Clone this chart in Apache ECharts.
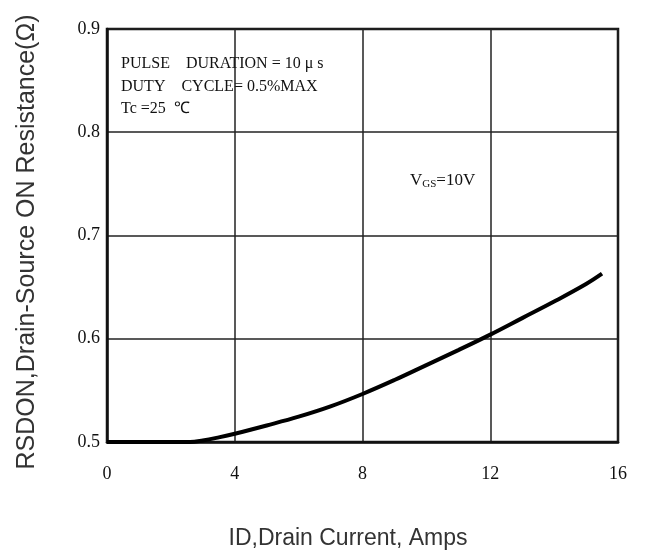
<!DOCTYPE html>
<html>
<head>
<meta charset="utf-8">
<script src="https://cdn.jsdelivr.net/npm/echarts@6/dist/echarts.min.js"></script>
<style>
html,body{margin:0;padding:0;background:#fff;}
#c{width:645px;height:556px;}
</style>
</head>
<body>
<div id="c"></div>
<script>
// Data
const currentAmps = [0, 1, 2, 2.6, 3, 3.5, 4, 5, 6, 7, 8, 9, 10, 11, 12, 13, 14, 15, 15.5];
const resistanceOhm = [0.5, 0.5, 0.5, 0.5, 0.5015, 0.5045, 0.508, 0.516, 0.5245, 0.5345, 0.5465, 0.560, 0.5745, 0.589, 0.604, 0.620, 0.636, 0.653, 0.663];
const xTicks = [0, 4, 8, 12, 16];
const yTicks = [0.5, 0.6, 0.7, 0.8, 0.9];
const noteLines = ['PULSE    DURATION = 10 μ s', 'DUTY    CYCLE= 0.5%MAX', 'Tc =25  ℃'];
const xTitle = 'ID,Drain Current, Amps';
const yTitle = 'RSDON,Drain-Source ON Resistance(Ω)';

const chart = echarts.init(document.getElementById('c'), null, {renderer: 'canvas'});
const serif = 'Liberation Serif';
const sans = 'Liberation Sans';

chart.setOption({
  animation: false,
  backgroundColor: '#fff',
  grid: {left: 107, right: 27, top: 29, bottom: 114, show: true, borderColor: '#111', borderWidth: 2.5, backgroundColor: 'transparent'},
  xAxis: {
    type: 'value', min: xTicks[0], max: xTicks[xTicks.length - 1], interval: 4,
    axisLine: {show: true, lineStyle: {color: '#111', width: 2.5}},
    axisTick: {show: false},
    splitLine: {show: true, lineStyle: {color: '#222', width: 1.5}},
    axisLabel: {color: '#111', fontFamily: serif, fontSize: 18, margin: 23},
    name: xTitle, nameLocation: 'middle', nameGap: 85,
    nameTextStyle: {fontFamily: sans, fontSize: 23, color: '#333', padding: [0, 29, 0, 0]}
  },
  yAxis: {
    type: 'value', min: yTicks[0], max: yTicks[yTicks.length - 1], interval: 0.1,
    axisLine: {show: true, lineStyle: {color: '#111', width: 2.5}},
    axisTick: {show: false},
    splitLine: {show: true, lineStyle: {color: '#222', width: 1.5}},
    axisLabel: {color: '#111', fontFamily: serif, fontSize: 18, margin: 7, formatter: v => v.toFixed(1)},
    name: yTitle, nameLocation: 'middle', nameGap: 67, nameRotate: 90,
    nameTextStyle: {fontFamily: sans, fontSize: 25, color: '#333', padding: [0, 13, 0, 0]}
  },
  series: [{
    type: 'line',
    data: currentAmps.map((x, i) => [x, resistanceOhm[i]]),
    smooth: 0.4,
    symbol: 'none',
    lineStyle: {color: '#000', width: 4},
    z: 5
  }],
  graphic: [
    {type: 'text', left: 121, top: 53, style: {text: noteLines.join('\n'), fontFamily: serif, fontSize: 16, lineHeight: 22.5, fill: '#111'}},
    {type: 'text', left: 410, top: 172, style: {
      text: '{v|V}{s|GS}{v|=10V}',
      rich: {v: {fontFamily: serif, fontSize: 17, fill: '#111'}, s: {fontFamily: serif, fontSize: 11, fill: '#111', verticalAlign: 'bottom', padding: [7, 0, 0, 0]}}
    }}
  ]
});
</script>
</body>
</html>
